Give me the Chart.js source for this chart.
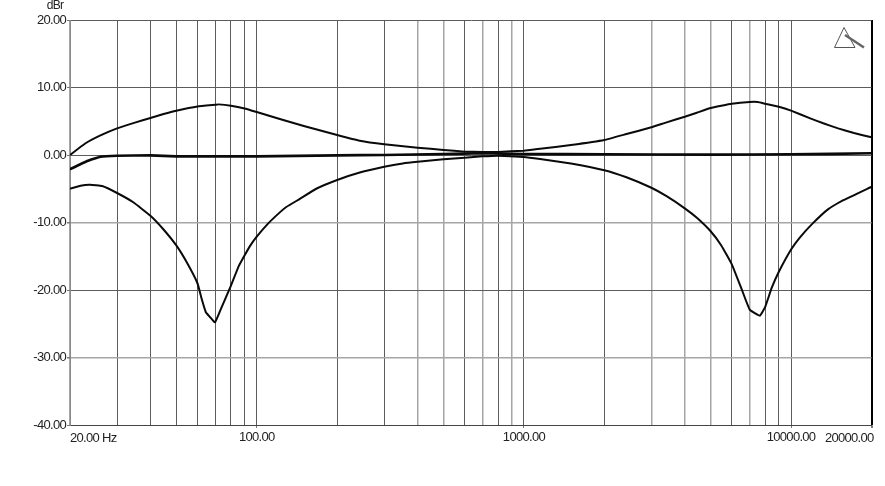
<!DOCTYPE html>
<html>
<head>
<meta charset="utf-8">
<title>dBr</title>
<script src="https://cdn.jsdelivr.net/npm/chart.js@4/dist/chart.umd.min.js"></script>
<style>
  body { margin: 0; background: #fff; }
  canvas { display: block; }
</style>
</head>
<body>
<canvas id="grafico" width="885" height="486"></canvas>
<script>
// valores
const freqTop = [20, 22.8, 26, 30, 35, 40, 44.8, 50, 60, 70, 72, 80, 90, 100, 122, 150, 200, 243, 300, 400, 500, 600, 700, 800, 1000, 1150, 1500, 2000, 2420, 3000, 3420, 4000, 4440, 5000, 5480, 6000, 7000, 7500, 8000, 9000, 10000, 11800, 13200, 15000, 17200, 20000];
const dbTop = [0, 1.7, 2.9, 3.95, 4.8, 5.48, 6.07, 6.57, 7.2, 7.45, 7.5, 7.3, 6.9, 6.37, 5.33, 4.3, 2.95, 2.1, 1.58, 1.08, 0.74, 0.5, 0.45, 0.45, 0.64, 0.93, 1.48, 2.22, 3.1, 4.1, 4.84, 5.67, 6.27, 6.96, 7.3, 7.6, 7.85, 7.85, 7.6, 7.15, 6.57, 5.43, 4.7, 3.95, 3.25, 2.62];

const freqMid = [20, 23.2, 26, 30, 40, 50, 100, 200, 300, 500, 700, 1000, 2000, 5000, 10000, 20000];
const dbMid = [-2.12, -0.9, -0.25, -0.1, -0.05, -0.2, -0.2, -0.05, 0, 0.15, 0.25, 0.15, 0.1, 0.05, 0.1, 0.25];

const freqLow = [20, 21.9, 23.8, 26.4, 30, 34.5, 40, 44.7, 50, 54.7, 60, 62.2, 64.5, 66.8, 69.8, 74, 80, 85.3, 90, 94.3, 100, 110, 122, 129, 145, 167, 200, 243, 300, 352, 400, 500, 600, 700, 800, 1000, 1150, 1500, 2000, 2420, 3000, 3420, 4000, 4440, 5000, 5480, 6000, 6520, 7000, 7650, 8000, 8460, 9000, 10000, 10800, 12000, 13740, 15700, 20000];
const dbLow = [-5.0, -4.54, -4.4, -4.6, -5.63, -7.0, -9.0, -11.0, -13.4, -15.9, -19.0, -21.3, -23.3, -24, -24.8, -22.5, -19.4, -16.6, -14.9, -13.5, -12.1, -10.2, -8.5, -7.7, -6.5, -5.0, -3.7, -2.6, -1.75, -1.25, -1.0, -0.64, -0.4, -0.2, -0.1, -0.3, -0.6, -1.25, -2.25, -3.3, -4.85, -6.1, -7.9, -9.3, -11.3, -13.4, -16.2, -19.8, -22.9, -23.8, -22.5, -19.7, -17.3, -14, -12.2, -10.2, -8.05, -6.7, -4.7];

// linhas verticais e horizontais da grade
const gridFreqs = [20, 30, 40, 50, 60, 70, 80, 90, 100, 200, 300, 400, 500, 600, 700, 800, 900, 1000, 2000, 3000, 4000, 5000, 6000, 7000, 8000, 9000, 10000, 20000];
const labelFreqs = [100, 1000, 10000];
const dbTicks = [20, 10, 0, -10, -20, -30, -40];

// linhas que saem mais claras na imagem
const lightFreqs = [20, 400, 500, 700, 900, 3000, 4000, 5000, 7000];
const lightDb = [-10, -30];

function pontos(xs, ys) {
  return xs.map((f, i) => ({ x: f, y: ys[i] }));
}

function curva(xs, ys, largura) {
  return {
    data: pontos(xs, ys),
    borderColor: '#0a0a0a',
    borderWidth: largura,
    pointRadius: 0,
    fill: false,
    tension: 0.1,
    showLine: true
  };
}

const FONTE = '13px "Liberation Sans"';

const extras = {
  id: 'extras',
  beforeDraw(chart) {
    // os textos do original ficam bem apertados
    chart.ctx.letterSpacing = '-0.7px';
  },
  afterDraw(chart) {
    const ctx = chart.ctx;
    const sx = chart.scales.x;
    const base = chart.chartArea.bottom + 13;
    ctx.save();
    ctx.font = FONTE;
    ctx.fillStyle = '#222';
    ctx.textBaseline = 'middle';
    ctx.textAlign = 'left';
    ctx.fillText('20.00 Hz', sx.getPixelForValue(20), base);
    ctx.textAlign = 'right';
    ctx.fillText('20000.00', sx.getPixelForValue(20000) + 2, base);
    ctx.textAlign = 'center';
    ctx.font = '12px "Liberation Sans"';
    ctx.fillText('dBr', 55, 6);

    // logotipo do canto
    ctx.strokeStyle = '#555';
    ctx.lineWidth = 1;
    ctx.beginPath();
    ctx.moveTo(844, 27.5);
    ctx.lineTo(834.5, 47.5);
    ctx.lineTo(855, 47.5);
    ctx.closePath();
    ctx.stroke();
    ctx.strokeStyle = '#666';
    ctx.lineWidth = 2.5;
    ctx.beginPath();
    ctx.moveTo(845, 35);
    ctx.lineTo(864, 47.5);
    ctx.stroke();
    ctx.restore();
  }
};

const grafico = new Chart(document.getElementById('grafico'), {
  type: 'scatter',
  data: {
    datasets: [
      curva(freqMid, dbMid, 2.6),
      curva(freqTop, dbTop, 2),
      curva(freqLow, dbLow, 2)
    ]
  },
  plugins: [extras],
  options: {
    responsive: false,
    animation: false,
    layout: { padding: { top: 20, right: 13.5, left: 0, bottom: 0 } },
    plugins: { legend: { display: false }, tooltip: { enabled: false } },
    scales: {
      x: {
        type: 'logarithmic',
        min: 20,
        max: 20000,
        afterBuildTicks(scale) {
          scale.ticks = gridFreqs.map(v => ({ value: v }));
        },
        afterFit(scale) { scale.height = 61; },
        border: { display: true, color: '#444', width: 1 },
        grid: {
          color(c) {
            if (c.tick.value === 20000) return '#000';
            return lightFreqs.includes(c.tick.value) ? '#a6a6a6' : '#5c5c5c';
          },
          lineWidth(c) {
            if (c.tick.value === 20000) return 2;
            return lightFreqs.includes(c.tick.value) ? 1.5 : 1;
          },
          tickLength: 3,
          tickColor(c) {
            return labelFreqs.includes(c.tick.value) || c.tick.value === 20000 ? '#777' : 'rgba(0,0,0,0)';
          }
        },
        ticks: {
          autoSkip: false,
          maxRotation: 0,
          padding: 2,
          color: '#222',
          font: { family: 'Liberation Sans', size: 13 },
          callback(v) { return labelFreqs.includes(v) ? v.toFixed(2) : ''; }
        }
      },
      y: {
        min: -40,
        max: 20,
        afterBuildTicks(scale) {
          scale.ticks = dbTicks.map(v => ({ value: v }));
        },
        afterFit(scale) { scale.width = 70; },
        border: { display: true, color: '#8a8a8a', width: 1 },
        grid: {
          color(c) { return lightDb.includes(c.tick.value) ? '#a6a6a6' : '#5c5c5c'; },
          lineWidth(c) { return lightDb.includes(c.tick.value) ? 1.5 : 1; },
          tickLength: 3,
          tickColor: '#777'
        },
        ticks: {
          padding: 1,
          color: '#222',
          font: { family: 'Liberation Sans', size: 13 },
          callback(v) { return v.toFixed(2); }
        }
      }
    }
  }
});
</script>
</body>
</html>
